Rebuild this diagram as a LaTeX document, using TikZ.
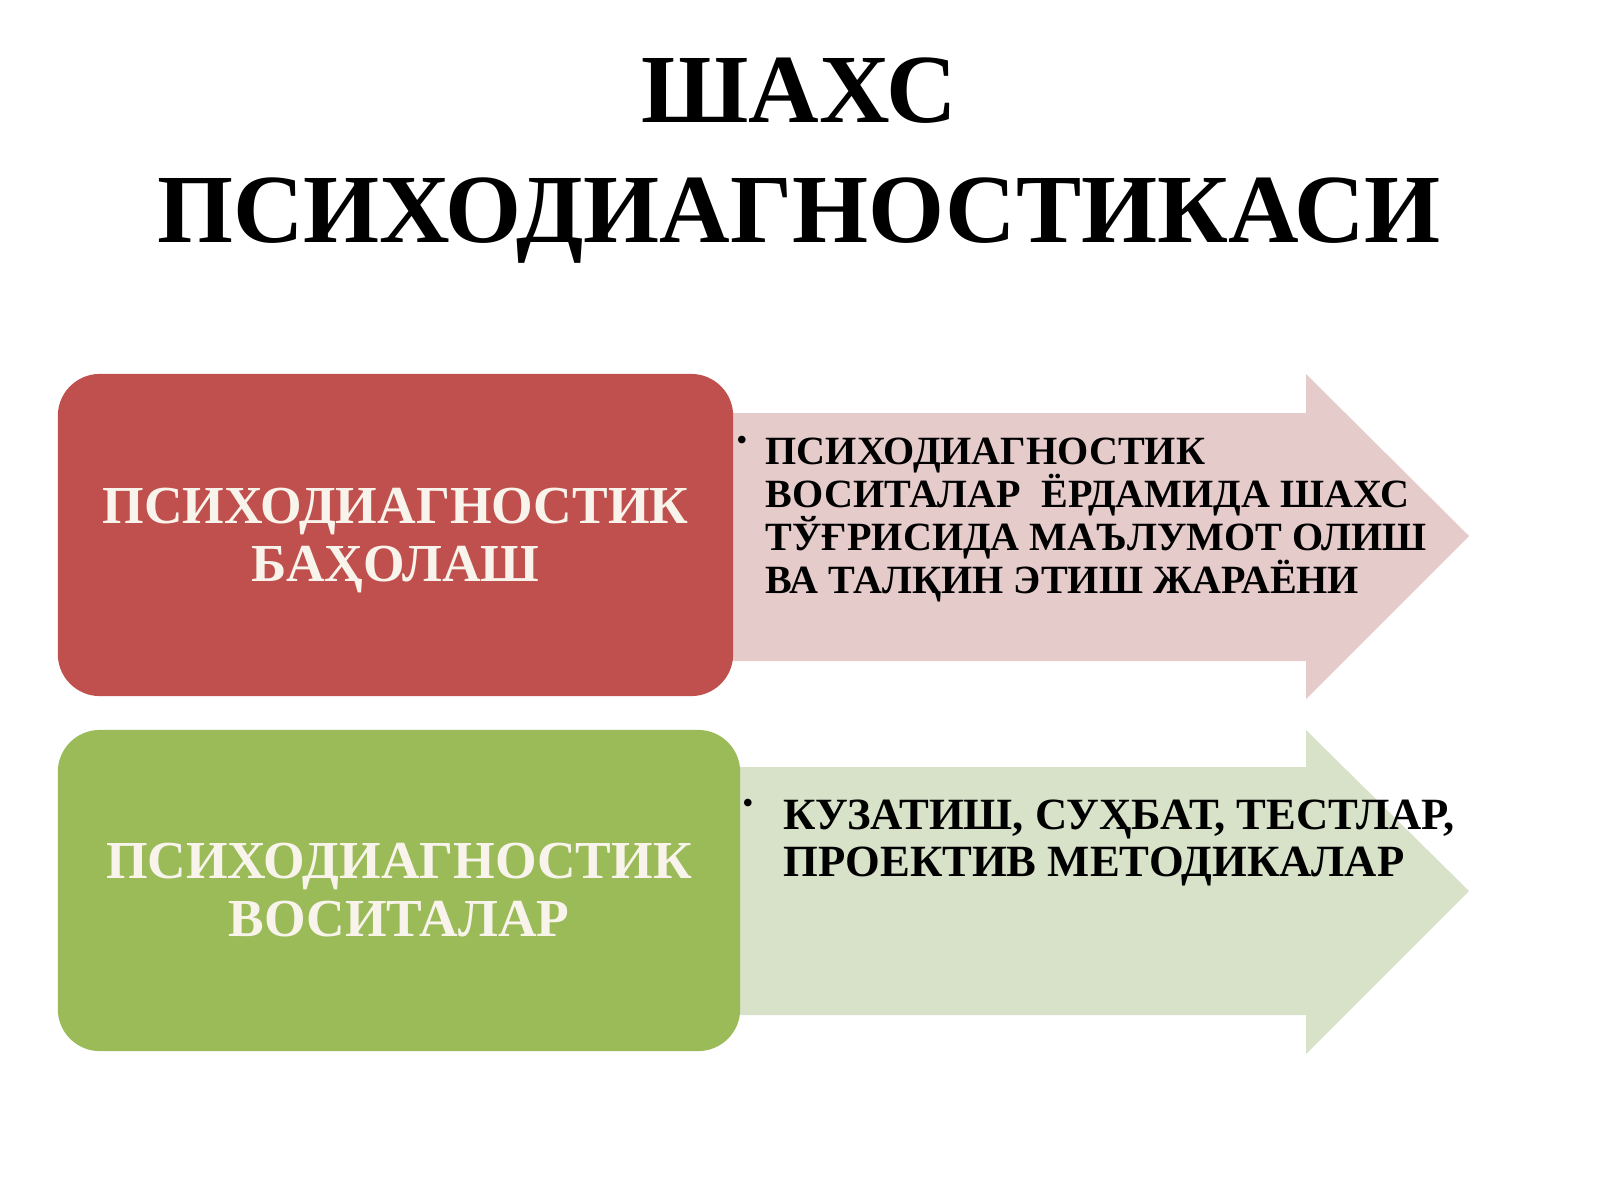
\documentclass[tikz,border=0pt]{standalone}
\usepackage{fontspec}
\setmainfont{Liberation Serif}
\usetikzlibrary{positioning}
\setlength{\lineskiplimit}{-20pt}

\definecolor{boxred}{HTML}{C0504D}
\definecolor{boxgreen}{HTML}{9BBB59}
\definecolor{arrowpink}{RGB}{230,203,203}
\definecolor{arrowgreen}{RGB}{216,226,201}
\definecolor{labelwhite}{HTML}{F8F4EC}

\begin{document}
\begin{tikzpicture}[x=0.01cm, y=-0.01cm, every node/.style={inner sep=0pt, font=\bfseries},
    labelbox/.style={rounded corners=0.42cm, text=labelwhite, align=center, font=\bfseries\fontsize{15.2}{16.5}\selectfont},
    arrowtext/.style={anchor=north west, align=left},
    bulletdot/.style={font=\fontsize{9}{9}\selectfont}]
    \useasboundingbox (0,0) rectangle (1600,1200);

    % title
    \node[align=center, font=\bfseries\fontsize{27.8}{34.1}\selectfont] (title) at (799,161) {ШАХС\\ПСИХОДИАГНОСТИКАСИ};

    % arrows behind the boxes
    \fill[arrowpink] (700,413) -- (1306,413) -- (1306,374) -- (1469,536) -- (1306,699) -- (1306,661) -- (700,661) -- cycle;
    \fill[arrowgreen] (700,767) -- (1306,767) -- (1306,730) -- (1469,891) -- (1306,1054) -- (1306,1015) -- (700,1015) -- cycle;

    % boxes
    \node[labelbox, fill=boxred, minimum width=6.75cm, minimum height=3.22cm] (baho) at (395.5,535) {ПСИХОДИАГНОСТИК\\\smash{БАҲОЛАШ}};
    \node[labelbox, fill=boxgreen, minimum width=6.82cm, minimum height=3.21cm] (vosita) at (399,890.5) {ПСИХОДИАГНОСТИК\\ВОСИТАЛАР};

    % arrow texts
    \node[bulletdot] (bul1) at (742,443) {•};
    \node[arrowtext, font=\bfseries\fontsize{11.4}{12.2}\selectfont] (bahotext) at (765,437.5) {ПСИХОДИАГНОСТИК\\ВОСИТАЛАР~ ЁРДАМИДА ШАХС\\ТЎҒРИСИДА МАЪЛУМОТ ОЛИШ\\ВА ТАЛҚИН ЭТИШ ЖАРАЁНИ};
    \node[bulletdot] (bul2) at (748,806) {•};
    \node[arrowtext, font=\bfseries\fontsize{12.7}{13.4}\selectfont] (vositatext) at (783,799.5) {КУЗАТИШ, СУҲБАТ, ТЕСТЛАР,\\ПРОЕКТИВ МЕТОДИКАЛАР};
\end{tikzpicture}
\end{document}
